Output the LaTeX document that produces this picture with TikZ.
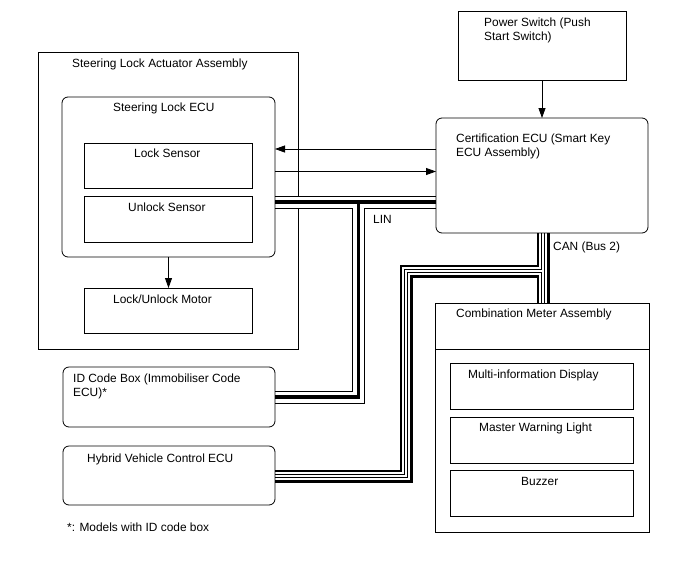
\documentclass[tikz,border=0pt]{standalone}
\usepackage{fontspec}
\setmainfont{Liberation Sans}
\usetikzlibrary{arrows.meta}
\pgfdeclarelayer{bg}
\pgfdeclarelayer{buslayer}
\pgfsetlayers{bg,buslayer,main}
\begin{document}
\begin{tikzpicture}[x=1pt,y=-1pt,
  box/.style={draw=black, line width=0.8pt, inner sep=0pt, outer sep=0pt, anchor=north west},
  rbox/.style={box, rounded corners=6pt},
  txt/.style={font=\fontsize{11.9}{14}\selectfont, inner sep=0pt, anchor=base west, align=left},
  arr/.style={line width=0.8pt, -{Triangle[length=10pt,width=7pt]}},
  linO/.style={line width=13pt, line join=miter, black},
  linW/.style={line width=11pt, line join=miter, white},
  linC/.style={line width=3.8pt, line join=miter, black},
  canO/.style={line width=13pt, line join=miter, black},
  canW/.style={line width=7.6pt, line join=miter, white},
  canC/.style={line width=4.6pt, line join=miter, black},
  canG/.style={line width=2.2pt, line join=miter, white}
]
\useasboundingbox (0,0) rectangle (688,560);

% boxes
\begin{pgfonlayer}{bg}
\fill[white] (0,0) rectangle (688,560);
\node[box, minimum width=260pt, minimum height=297pt] (asm) at (38,52) {};
\end{pgfonlayer}
\node[rbox, minimum width=213pt, minimum height=160pt] (slecu) at (62,97) {};
\node[box, minimum width=168pt, minimum height=45pt] (locks) at (84,143) {};
\node[box, minimum width=168pt, minimum height=46pt] (unlocks) at (84,196) {};
\node[box, minimum width=168pt, minimum height=45pt] (motor) at (84,288) {};
\node[box, minimum width=168pt, minimum height=69pt] (pwr) at (458,11) {};
\node[rbox, minimum width=212pt, minimum height=115pt] (cert) at (436,118) {};
\node[box, minimum width=214pt, minimum height=46pt] (meterhead) at (435,303) {};
\node[box, minimum width=214pt, minimum height=183pt] (meterbody) at (435,349) {};
\node[box, minimum width=183pt, minimum height=46pt] (mid) at (450,363) {};
\node[box, minimum width=183pt, minimum height=46pt] (mwl) at (450,417) {};
\node[box, minimum width=183pt, minimum height=46pt] (buzz) at (450,470) {};
\node[rbox, minimum width=212pt, minimum height=60pt] (idbox) at (63,367) {};
\node[rbox, minimum width=212pt, minimum height=59pt] (hv) at (63,446) {};

% texts
\node[txt] (tasm) at (72,67) {Steering Lock Actuator Assembly};
\node[txt] (tslecu) at (113,111) {Steering Lock ECU};
\node[txt] (tlocks) at (134,157) {Lock Sensor};
\node[txt] (tunlocks) at (128,211) {Unlock Sensor};
\node[txt] (tmotor) at (113,303) {Lock/Unlock Motor};
\node[txt] (tpwr) at (484,40) {Power Switch (Push\\Start Switch)};
\node[txt] (tcert) at (456,156) {Certification ECU (Smart Key\\ECU Assembly)};
\node[txt] (tlin) at (373,223) {LIN};
\node[txt] (tcan) at (553,250) {CAN (Bus 2)};
\node[txt] (tmeter) at (456,317) {Combination Meter Assembly};
\node[txt] (tmid) at (468,378) {Multi-information Display};
\node[txt] (tmwl) at (479,431) {Master Warning Light};
\node[txt] (tbuzz) at (521,485) {Buzzer};
\node[txt] (tid) at (73,396) {ID Code Box (Immobiliser Code\\ECU)*};
\node[txt] (thv) at (87,462) {Hybrid Vehicle Control ECU};
\node[txt] (tnote) at (67,531) {*: Models with ID code box};

% helper coordinates
\coordinate (a1Y) at (0,149);
\coordinate (a2Y) at (0,171.5);
\coordinate (linY) at (0,202);
\coordinate (linX) at (358.5,0);
\coordinate (idY) at (0,397);
\coordinate (canX) at (543,0);
\coordinate (canY) at (0,271);
\coordinate (hvX) at (406,0);
\coordinate (hvY) at (0,476);

% arrows
\draw[arr] (pwr.south) -- (pwr.south |- cert.north);
\draw[arr] (slecu.south) -- (slecu.south |- motor.north);
\draw[arr] (cert.west |- a1Y) -- (slecu.east |- a1Y);
\draw[arr] (slecu.east |- a2Y) -- (cert.west |- a2Y);

% buses
\begin{pgfonlayer}{buslayer}
\foreach \st in {linO,linW,linC}{
  \draw[\st] (slecu.east |- linY) -- (cert.west |- linY);
  \draw[\st] (linX |- linY) -- (linX |- idY) -- (idbox.east |- idY);
}
\foreach \st in {canO,canW,canC,canG}{
  \draw[\st] (canX |- cert.south) -- (canX |- meterhead.north);
  \draw[\st] (canX |- canY) -- (hvX |- canY) -- (hvX |- hvY) -- (hv.east |- hvY);
}
\end{pgfonlayer}
\end{tikzpicture}
\end{document}
